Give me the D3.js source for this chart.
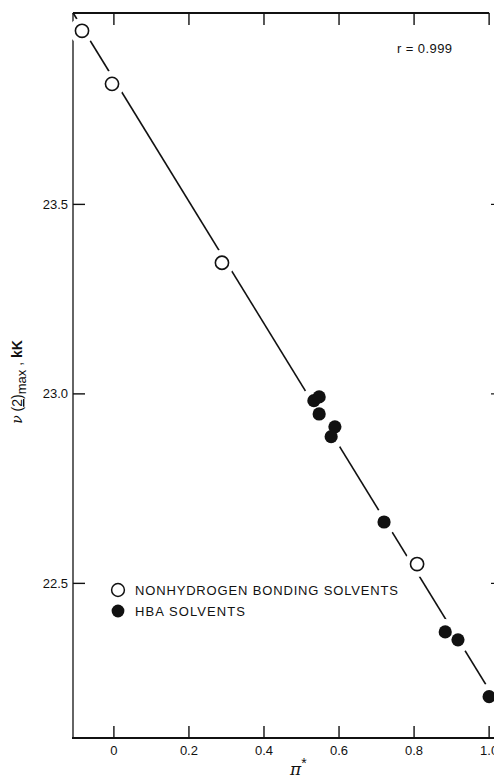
<!DOCTYPE html>
<html>
<head>
<meta charset="utf-8">
<script src="https://cdn.jsdelivr.net/npm/d3@7/dist/d3.min.js"></script>
<style>
  html, body { margin: 0; padding: 0; background: #fff; }
  svg { display: block; }
  text { font-family: "Liberation Sans", Arial, Helvetica, sans-serif; fill: #111; }
</style>
</head>
<body>
<svg id="chart" width="494" height="779"></svg>
<script>
// π* values and ν(2)max (kK) for the two groups of solvents
const openX = [-0.085, -0.005, 0.288, 0.808];
const openY = [23.958, 23.818, 23.346, 22.551];

const filledX = [0.533, 0.547, 0.547, 0.589, 0.579, 0.720, 0.883, 0.917, 1.000];
const filledY = [22.982, 22.992, 22.947, 22.913, 22.887, 22.662, 22.372, 22.351, 22.201];

// correlation line ν = a + b·π*
const fitIntercept = 23.83;
const fitSlope = -1.611;
const fitR = "0.999";

const xTicks = [0, 0.2, 0.4, 0.6, 0.8, 1.0];
const xTickLabels = ["0", "0.2", "0.4", "0.6", "0.8", "1.0"];
const yTicks = [22.5, 23.0, 23.5];
const yTickLabels = ["22.5", "23.0", "23.5"];

const legendLabels = ["NONHYDROGEN BONDING SOLVENTS", "HBA SOLVENTS"];

const svg = d3.select("#chart");
const plotL = 73, plotR = 494, plotT = 13, plotB = 738;

const x = d3.scaleLinear().domain([-0.109, 1.013]).range([plotL, plotR]);
const y = d3.scaleLinear().domain([22.092, 24.005]).range([plotB, plotT]);

// frame
svg.append("line").attr("x1", plotL).attr("x2", plotL).attr("y1", plotT).attr("y2", plotB)
  .attr("stroke", "#111").attr("stroke-width", 1.3);
svg.append("line").attr("x1", plotL - 1).attr("x2", plotR).attr("y1", plotB).attr("y2", plotB)
  .attr("stroke", "#111").attr("stroke-width", 2);
svg.append("line").attr("x1", plotL).attr("x2", x(1.0)).attr("y1", plotT).attr("y2", plotT)
  .attr("stroke", "#111").attr("stroke-width", 2);

// x ticks, inward on bottom and top
const tickLen = 12;
xTicks.forEach((t, i) => {
  svg.append("line").attr("x1", x(t)).attr("x2", x(t))
    .attr("y1", plotB).attr("y2", plotB - tickLen)
    .attr("stroke", "#111").attr("stroke-width", 1.4);
  svg.append("line").attr("x1", x(t)).attr("x2", x(t))
    .attr("y1", plotT).attr("y2", plotT + tickLen)
    .attr("stroke", "#111").attr("stroke-width", 1.4);
  svg.append("text").attr("x", x(t)).attr("y", plotB + 17)
    .attr("text-anchor", "middle").attr("font-size", 13)
    .text(xTickLabels[i]);
});

// y ticks, inward on the left and short marks on the right
yTicks.forEach((t, i) => {
  svg.append("line").attr("x1", plotL).attr("x2", plotL + tickLen)
    .attr("y1", y(t)).attr("y2", y(t))
    .attr("stroke", "#111").attr("stroke-width", 1.4);
  svg.append("line").attr("x1", plotR - 3).attr("x2", plotR)
    .attr("y1", y(t)).attr("y2", y(t))
    .attr("stroke", "#111").attr("stroke-width", 1.2);
  svg.append("text").attr("x", plotL - 5).attr("y", y(t))
    .attr("dy", "0.35em").attr("text-anchor", "end").attr("font-size", 13)
    .text(yTickLabels[i]);
});

// correlation line
const xs = x.domain();
svg.append("line")
  .attr("x1", x(xs[0])).attr("y1", y(fitIntercept + fitSlope * xs[0]))
  .attr("x2", x(xs[1])).attr("y2", y(fitIntercept + fitSlope * xs[1]))
  .attr("stroke", "#111").attr("stroke-width", 1.6);

const openPts = openX.map((v, i) => [v, openY[i]]);
const filledPts = filledX.map((v, i) => [v, filledY[i]]);

// white clearance around each marker so the line stops short of it
svg.append("g").selectAll("circle").data(openPts.concat(filledPts)).join("circle")
  .attr("cx", d => x(d[0])).attr("cy", d => y(d[1])).attr("r", 13)
  .attr("fill", "#fff");

svg.append("g").selectAll("circle").data(openPts).join("circle")
  .attr("cx", d => x(d[0])).attr("cy", d => y(d[1])).attr("r", 6.6)
  .attr("fill", "#fff").attr("stroke", "#111").attr("stroke-width", 1.6);

svg.append("g").selectAll("circle").data(filledPts).join("circle")
  .attr("cx", d => x(d[0])).attr("cy", d => y(d[1])).attr("r", 6.6)
  .attr("fill", "#111");

// r annotation
svg.append("text").attr("x", 397).attr("y", 53).attr("font-size", 13)
  .attr("textLength", 55).attr("lengthAdjust", "spacing")
  .text("r = " + fitR);

// legend
const lg = svg.append("g").attr("transform", "translate(118,590)");
lg.append("circle").attr("cx", 0).attr("cy", 0).attr("r", 6.4)
  .attr("fill", "#fff").attr("stroke", "#111").attr("stroke-width", 1.5);
lg.append("circle").attr("cx", 0).attr("cy", 21).attr("r", 6.4).attr("fill", "#111");
lg.append("text").attr("x", 17).attr("y", 0).attr("dy", "0.36em")
  .attr("font-size", 13).attr("textLength", 263).attr("lengthAdjust", "spacing")
  .text(legendLabels[0]);
lg.append("text").attr("x", 17).attr("y", 21).attr("dy", "0.36em")
  .attr("font-size", 13).attr("textLength", 110).attr("lengthAdjust", "spacing")
  .text(legendLabels[1]);

// x axis title
const xt = svg.append("text").attr("x", 290).attr("y", 775).attr("font-size", 17);
xt.append("tspan").attr("font-style", "italic").attr("font-family", "DejaVu Serif, serif").text("π");
xt.append("tspan").attr("dy", -7).attr("font-size", 14).text("*");

// y axis title
const yt = svg.append("text")
  .attr("transform", "translate(22,382) rotate(-90)")
  .attr("text-anchor", "middle").attr("font-size", 14);
yt.append("tspan").attr("font-family", "DejaVu Serif, serif").attr("font-style", "italic").text("ν");
yt.append("tspan").text(" (");
yt.append("tspan").attr("text-decoration", "underline").text("2");
yt.append("tspan").text(")");
yt.append("tspan").attr("dy", 4).attr("font-size", 13).text("max");
yt.append("tspan").attr("dy", -4).text(" ,  ");
yt.append("tspan").attr("font-weight", "bold").text("kK");
</script>
</body>
</html>
